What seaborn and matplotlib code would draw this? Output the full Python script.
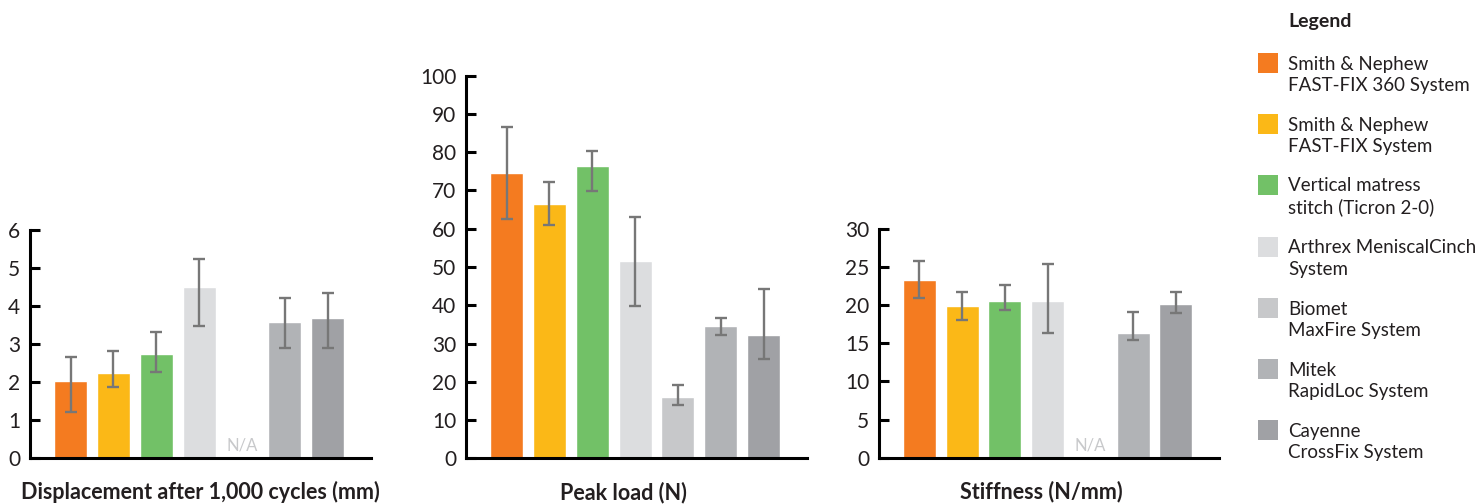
import pandas as pd
import numpy as np
import matplotlib.pyplot as plt
import seaborn as sns
from matplotlib.patches import Rectangle

# ----------------------------
# Data
# ----------------------------
systems = ['Smith & Nephew\nFAST-FIX 360 System',
           'Smith & Nephew\nFAST-FIX System',
           'Vertical matress\nstitch (Ticron 2-0)',
           'Arthrex MeniscalCinch\nSystem',
           'Biomet\nMaxFire System',
           'Mitek\nRapidLoc System',
           'Cayenne\nCrossFix System']
colors = ['#F47B20', '#FBB817', '#72C167', '#DCDDDF', '#C7C8CA', '#B1B3B6', '#A0A1A5']

disp_mean = [2.03, 2.23, 2.74, 4.50, np.nan, 3.58, 3.68]
disp_low = [1.22, 1.86, 2.26, 3.47, np.nan, 2.89, 2.89]
disp_high = [2.66, 2.82, 3.31, 5.24, np.nan, 4.20, 4.34]

peak_mean = [74.5, 66.5, 76.4, 51.6, 15.9, 34.6, 32.2]
peak_low = [62.6, 61.1, 69.9, 39.8, 13.9, 32.3, 26.0]
peak_high = [86.6, 72.3, 80.3, 63.0, 19.2, 36.6, 44.3]

stiff_mean = [23.3, 19.9, 20.6, 20.6, np.nan, 16.3, 20.2]
stiff_low = [21.0, 18.1, 19.4, 16.3, np.nan, 15.4, 19.0]
stiff_high = [25.8, 21.7, 22.6, 25.4, np.nan, 19.1, 21.8]

titles = ['Displacement after 1,000 cycles (mm)', 'Peak load (N)', 'Stiffness (N/mm)']
ymax = [6, 100, 30]
ystep = [1, 10, 5]

# ----------------------------
# Style
# ----------------------------
sns.set_style('white')
plt.rcParams['font.family'] = ['Lato', 'DejaVu Sans']
ink = '#231F20'

W, H = 1482, 504
fig = plt.figure(figsize=(W / 100, H / 100), dpi=100)

# axes boxes in pixels: left, top, right, bottom
boxes = [(30, 230, 371, 458), (466, 75.7, 807, 458.3), (879, 229, 1219, 457.7)]
title_x = [0.501, 0.462, 0.476]

panels = [(disp_mean, disp_low, disp_high),
          (peak_mean, peak_low, peak_high),
          (stiff_mean, stiff_low, stiff_high)]

for i, (mean, low, high) in enumerate(panels):
    l, t, r, b = boxes[i]
    ax = fig.add_axes([l / W, 1 - b / H, (r - l) / W, (b - t) / H])
    df = pd.DataFrame({'system': systems, 'value': mean})
    sns.barplot(data=df, x='system', y='value', hue='system', order=systems,
                hue_order=systems, palette=colors, width=0.77, saturation=1,
                legend=False, errorbar=None, ax=ax)

    m = np.array(mean, dtype=float)
    lo = m - np.array(low, dtype=float)
    hi = np.array(high, dtype=float) - m
    ax.errorbar(np.arange(len(systems)), m, yerr=[lo, hi], fmt='none',
                ecolor='#777777', elinewidth=1.7, capsize=4, capthick=1.7)

    # missing data
    for k, v in enumerate(mean):
        if np.isnan(v):
            ax.annotate('N/A', xy=(k, 0), xytext=(0, 3), textcoords='offset points',
                        ha='center', va='bottom', fontsize=12, color='#C8C9CB')

    ax.set_xlim(-0.945, 7.01)
    ax.set_ylim(0, ymax[i])
    ax.set_yticks(np.arange(0, ymax[i] + 0.01, ystep[i]))
    ax.set_xticks([])
    ax.set_xlabel('')
    ax.set_ylabel('')
    for side in ['top', 'right']:
        ax.spines[side].set_visible(False)
    for side in ['left', 'bottom']:
        ax.spines[side].set_linewidth(2.2)
        ax.spines[side].set_color('black')
    ax.tick_params(axis='y', direction='in', length=7, width=2.2, color='black',
                   pad=7, labelsize=15, labelcolor=ink, left=True)
    ax.annotate(titles[i], xy=(title_x[i], 0), xycoords='axes fraction',
                xytext=(0, -24.5), textcoords='offset points', ha='center',
                va='center', fontsize=15.5, fontweight='bold', color=ink)

# ----------------------------
# Legend
# ----------------------------
fig.text(1288 / W, 1 - 22 / H, 'Legend', ha='left', va='center', fontsize=14,
         fontweight='bold', color=ink)
for k, (name, c) in enumerate(zip(systems, colors)):
    top = 53 + 61.2 * k
    fig.add_artist(Rectangle((1258 / W, 1 - (top + 20) / H), 20 / W, 20 / H,
                             transform=fig.transFigure, facecolor=c, edgecolor='none'))
    # va='baseline' pins the last line's baseline
    fig.text(1288 / W, 1 - (top + 38) / H, name, ha='left', va='baseline',
             fontsize=13.5, color=ink, linespacing=1.3)

fig.savefig('out.png', dpi=100)
